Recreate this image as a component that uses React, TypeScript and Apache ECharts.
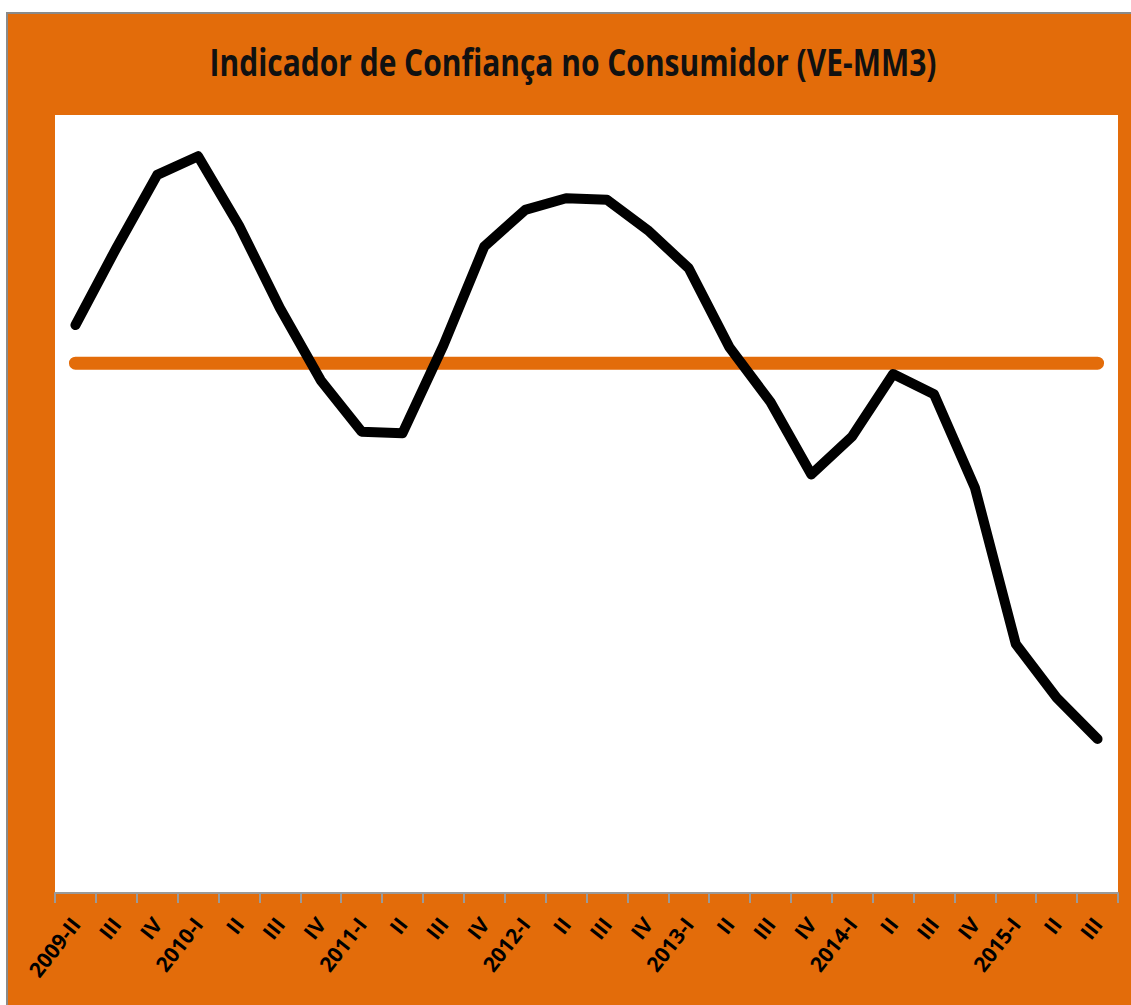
import React, { useEffect, useRef } from "react";
import * as echarts from "echarts";

const categories = [
  "2009-II", "III", "IV", "2010-I", "II", "III", "IV", "2011-I", "II", "III",
  "IV", "2012-I", "II", "III", "IV", "2013-I", "II", "III", "IV", "2014-I",
  "II", "III", "IV", "2015-I", "II", "III",
];

const indicatorValues = [
  73.0, 82.9, 92.3, 94.7, 85.8, 75.2, 65.9, 59.3, 59.1, 70.4,
  83.1, 87.8, 89.3, 89.1, 85.2, 80.3, 70.1, 63.1, 53.8, 58.7,
  66.7, 64.1, 52.1, 32.0, 25.1, 19.8,
];

const averageValue = 68.1;
const averageValues = categories.map(() => averageValue);

const titleText = "Indicador de Confiança no Consumidor (VE-MM3)";

const ORANGE = "#E36C0A";

export default function App() {
  const ref = useRef<HTMLDivElement>(null);
  useEffect(() => {
    if (!ref.current) return;
    const chart = echarts.init(ref.current, undefined, { renderer: "svg" });
    chart.setOption({
      animation: false,
      backgroundColor: ORANGE,
      graphic: [
        {
          type: "text",
          x: 565,
          y: 48,
          scaleX: 0.81,
          style: {
            text: titleText,
            x: 0,
            y: 0,
            align: "center",
            verticalAlign: "middle",
            fontFamily: "Open Sans",
            fontWeight: "bold",
            fontSize: 37,
            fill: "#111",
          },
        },
      ],
      grid: {
        left: 47,
        right: 13,
        top: 101,
        bottom: 112,
        show: true,
        backgroundColor: "#ffffff",
        borderWidth: 0,
      },
      xAxis: {
        type: "category",
        data: categories,
        boundaryGap: true,
        axisLine: { show: true, lineStyle: { color: "#9a9a9a", width: 2 } },
        axisTick: { show: true, length: 10, lineStyle: { color: "#9a9a9a", width: 2 }, interval: 0 },
        axisLabel: {
          interval: 0,
          rotate: 52,
          margin: 27,
          color: "#000",
          fontFamily: "Open Sans",
          fontWeight: "bold",
          fontSize: 21,
        },
      },
      yAxis: {
        type: "value",
        min: 0,
        max: 100,
        show: false,
        splitLine: { show: false },
      },
      series: [
        {
          type: "line",
          data: averageValues,
          symbol: "none",
          lineStyle: { color: ORANGE, width: 13, cap: "round" },
          z: 2,
        },
        {
          type: "line",
          data: indicatorValues,
          symbol: "none",
          lineStyle: { color: "#000", width: 10, cap: "round", join: "round" },
          z: 3,
        },
      ],
    });
    return () => chart.dispose();
  }, []);

  return (
    <div
      style={{
        position: "absolute",
        left: 6,
        top: 12,
        borderTop: "2px solid #8a8a8a",
        borderLeft: "2px solid #8a8a8a",
        width: 1123,
        height: 991,
      }}
    >
      <div ref={ref} style={{ width: 1123, height: 991 }} />
    </div>
  );
}
